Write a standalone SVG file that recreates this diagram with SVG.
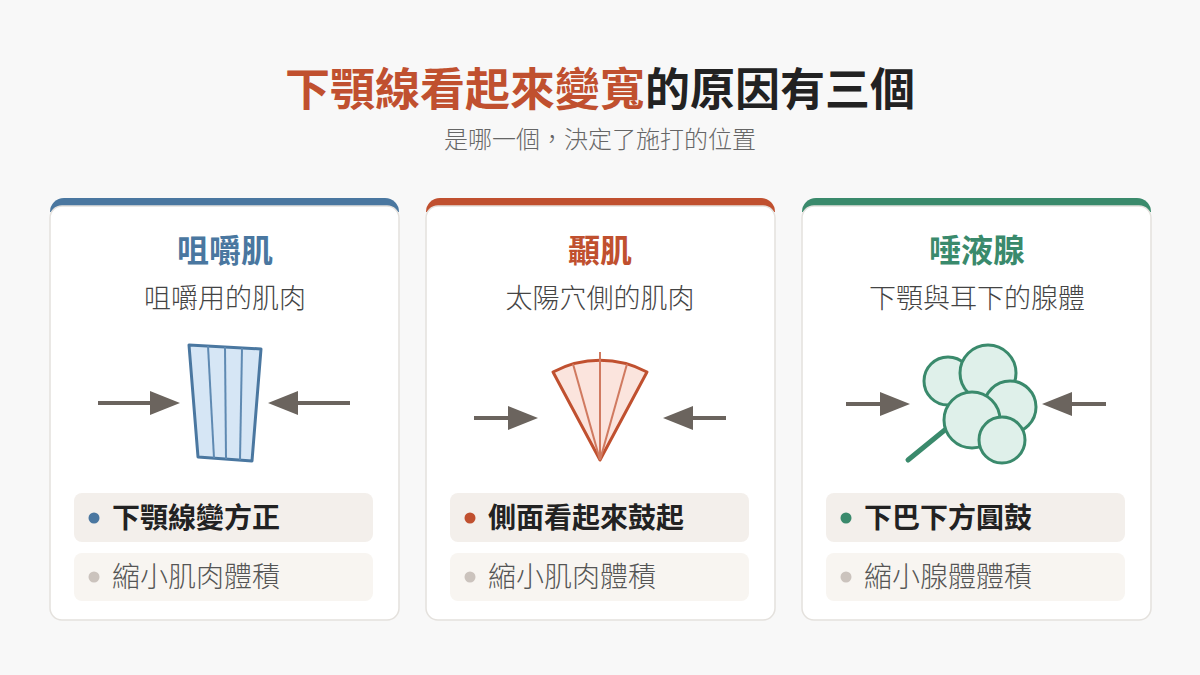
<svg xmlns="http://www.w3.org/2000/svg" width="1200" height="675" viewBox="0 0 1200 675">
<style>
text{font-family:"Noto Sans CJK TC","Noto Sans CJK SC",sans-serif}
.card{fill:#fff;stroke:#e4e1dd;stroke-width:1.5}
.h{font-size:32px;font-weight:700;text-anchor:middle}
.sub{font-size:27px;fill:#444;text-anchor:middle;font-weight:300}
.b1{fill:#f3efeb}.b2{fill:#f8f5f1}
.t1{font-size:28px;font-weight:700;fill:#222}
.t2{font-size:28px;fill:#555;font-weight:300}
.arr{stroke:#6b645e;stroke-width:4}
.ah{fill:#6b645e}
</style>
<rect width="1200" height="675" fill="#f8f8f8"/>
<text x="600" y="106" text-anchor="middle" font-size="45" font-weight="700" fill="#222"><tspan fill="#c0502f">下顎線看起來變寬</tspan>的原因有三個</text>
<text x="600" y="148" text-anchor="middle" font-size="24" font-weight="300" fill="#666">是哪一個，決定了施打的位置</text>

<g id="card1">
<path d="M50 212a14 14 0 0 1 14-14h321a14 14 0 0 1 14 14z" fill="#4a77a0"/>
<rect class="card" x="50" y="206" width="349" height="414" rx="12"/>
<text class="h" x="225" y="262" fill="#4a77a0">咀嚼肌</text>
<text class="sub" x="225" y="308">咀嚼用的肌肉</text>
<polygon points="189,345 261,349 252,461 198,457" fill="#d6e6f5" stroke="#4a77a0" stroke-width="3" stroke-linejoin="round"/>
<g stroke="#5f8ab2" stroke-width="2"><line x1="208" y1="346" x2="214" y2="458"/><line x1="225" y1="347" x2="226" y2="459"/><line x1="242" y1="348" x2="240" y2="460"/></g>
<line class="arr" x1="98" y1="403" x2="152" y2="403"/><polygon class="ah" points="150,391 180,403 150,415"/>
<line class="arr" x1="296" y1="403" x2="350" y2="403"/><polygon class="ah" points="298,391 268,403 298,415"/>
<rect class="b1" x="74" y="493" width="299" height="49" rx="8"/>
<circle cx="94" cy="518" r="5.5" fill="#4a77a0"/>
<text class="t1" x="112" y="528">下顎線變方正</text>
<rect class="b2" x="74" y="553" width="299" height="48" rx="8"/>
<circle cx="94" cy="577" r="5.5" fill="#cbc3bd"/>
<text class="t2" x="112" y="587">縮小肌肉體積</text>
</g>

<g id="card2">
<path d="M426 212a14 14 0 0 1 14-14h321a14 14 0 0 1 14 14z" fill="#c0502f"/>
<rect class="card" x="426" y="206" width="349" height="414" rx="12"/>
<text class="h" x="600" y="262" fill="#c0502f">顳肌</text>
<text class="sub" x="600" y="308">太陽穴側的肌肉</text>
<path d="M600 460L553 372A100 100 0 0 1 647 372Z" fill="#fbe4dd" stroke="#c0502f" stroke-width="3" stroke-linejoin="round"/>
<g stroke="#d07a60" stroke-width="2"><line x1="600" y1="460" x2="600" y2="352"/><line x1="600" y1="460" x2="573" y2="364"/><line x1="600" y1="460" x2="627" y2="364"/></g>
<line class="arr" x1="474" y1="418" x2="510" y2="418"/><polygon class="ah" points="508,406 538,418 508,430"/>
<line class="arr" x1="691" y1="418" x2="726" y2="418"/><polygon class="ah" points="693,406 663,418 693,430"/>
<rect class="b1" x="450" y="493" width="299" height="49" rx="8"/>
<circle cx="470" cy="518" r="5.5" fill="#c0502f"/>
<text class="t1" x="488" y="528">側面看起來鼓起</text>
<rect class="b2" x="450" y="553" width="299" height="48" rx="8"/>
<circle cx="470" cy="577" r="5.5" fill="#cbc3bd"/>
<text class="t2" x="488" y="587">縮小肌肉體積</text>
</g>

<g id="card3">
<path d="M802 212a14 14 0 0 1 14-14h321a14 14 0 0 1 14 14z" fill="#3a8a6c"/>
<rect class="card" x="802" y="206" width="349" height="414" rx="12"/>
<text class="h" x="977" y="262" fill="#3a8a6c">唾液腺</text>
<text class="sub" x="977" y="308">下顎與耳下的腺體</text>
<line x1="908" y1="460" x2="946" y2="429" stroke="#3a8a6c" stroke-width="5" stroke-linecap="round"/>
<g fill="#dff0ea" stroke="#3a8a6c" stroke-width="3">
<circle cx="948" cy="381" r="24"/><circle cx="988" cy="373" r="28"/><circle cx="1010" cy="407" r="26"/><circle cx="972" cy="420" r="28"/><circle cx="1002" cy="440" r="23"/>
</g>
<line class="arr" x1="846" y1="404" x2="882" y2="404"/><polygon class="ah" points="880,392 910,404 880,416"/>
<line class="arr" x1="1070" y1="404" x2="1106" y2="404"/><polygon class="ah" points="1072,392 1042,404 1072,416"/>
<rect class="b1" x="826" y="493" width="299" height="49" rx="8"/>
<circle cx="846" cy="518" r="5.5" fill="#3a8a6c"/>
<text class="t1" x="864" y="528">下巴下方圓鼓</text>
<rect class="b2" x="826" y="553" width="299" height="48" rx="8"/>
<circle cx="846" cy="577" r="5.5" fill="#cbc3bd"/>
<text class="t2" x="864" y="587">縮小腺體體積</text>
</g>
</svg>
